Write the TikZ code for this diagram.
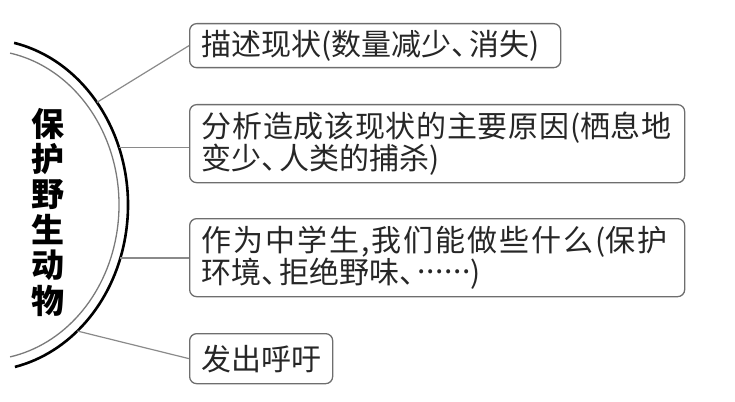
\documentclass[tikz,border=0pt]{standalone}
\usepackage{fontspec}
\setmainfont{Noto Sans CJK SC}
\usetikzlibrary{calc}
\definecolor{boxgray}{HTML}{6E6E6E}
\definecolor{linegray}{HTML}{8A8A8A}
\definecolor{arcgray}{HTML}{7A7A7A}
\definecolor{txt}{HTML}{262626}
\newcommand\hf{\hfill{}}
\newcommand\dun{\makebox[0.6em][l]{、}}
\newcommand\sixdots{\raisebox{0.32em}{\makebox[53pt][s]{.\hfill.\hfill.\hfill.\hfill.\hfill.}}}
\begin{document}
\begin{tikzpicture}[x=1pt,y=1pt]
\useasboundingbox (0,0) rectangle (735,-401);
\tikzset{
  box/.style={draw=boxgray, line width=1.3pt, rounded corners=7pt, anchor=north west,
    inner xsep=12pt, inner ysep=0pt, align=left, text=txt,
    font=\fontsize{30}{32}\selectfont},
  link/.style={draw=linegray, line width=1.2pt},
  titlestyle/.style={font=\fontsize{33}{35.4}\selectfont\bfseries, align=center, inner sep=0pt, text=black},
}
% bracket arcs
\coordinate (c) at (-17,-205);
\draw[line width=2.6pt, black] (c) ++(77.6:145 and 166) arc[start angle=77.6, end angle=-77.3, x radius=145, y radius=166];
\draw[line width=1.3pt, arcgray] (c) ++(78.5:136 and 155) arc[start angle=78.5, end angle=-78.5, x radius=136, y radius=155];
% title
\node[titlestyle] (title) at (48,-212) {保\\护\\野\\生\\动\\物};
% boxes
\node[box, minimum width=371pt, minimum height=44pt, text width=347pt] (b1) at (189,-23) {描述现状(数量减少\dun 消失)};
\node[box, minimum width=495pt, minimum height=78pt, text width=471pt] (b2) at (189,-104)
  {\makebox[470pt][l]{分\hf 析\hf 造\hf 成\hf 该\hf 现\hf 状\hf 的\hf 主\hf 要\hf 原\hf 因\hf (栖\hf 息\hf 地}\\变少\dun 人类的捕杀)};
\node[box, minimum width=495pt, minimum height=78pt, text width=471pt] (b3) at (189,-218)
  {\makebox[466pt][l]{作\hf 为\hf 中\hf 学\hf 生\hf ,\hf 我\hf 们\hf 能\hf 做\hf 些\hf 什\hf 么\hf (保\hf 护}\\环境\dun 拒绝野味\dun\sixdots)};
\node[box, minimum width=143pt, minimum height=50pt, text width=119pt] (b4) at (189,-333) {发出呼吁};
% connectors
\coordinate (s1) at ($(c)+(38.2:145 and 166)$);
\coordinate (s2) at ($(c)+(20.4:145 and 166)$);
\coordinate (s3) at ($(c)+(-18.6:145 and 166)$);
\coordinate (s4) at ($(c)+(-49.4:145 and 166)$);
\draw[link] (s1) -- (b1.west);
\draw[link] (s2) -- (s2 -| b2.west);
\draw[link] (s3) -- (s3 -| b3.west);
\draw[link] (s4) -- (b4.west);
\end{tikzpicture}
\end{document}
